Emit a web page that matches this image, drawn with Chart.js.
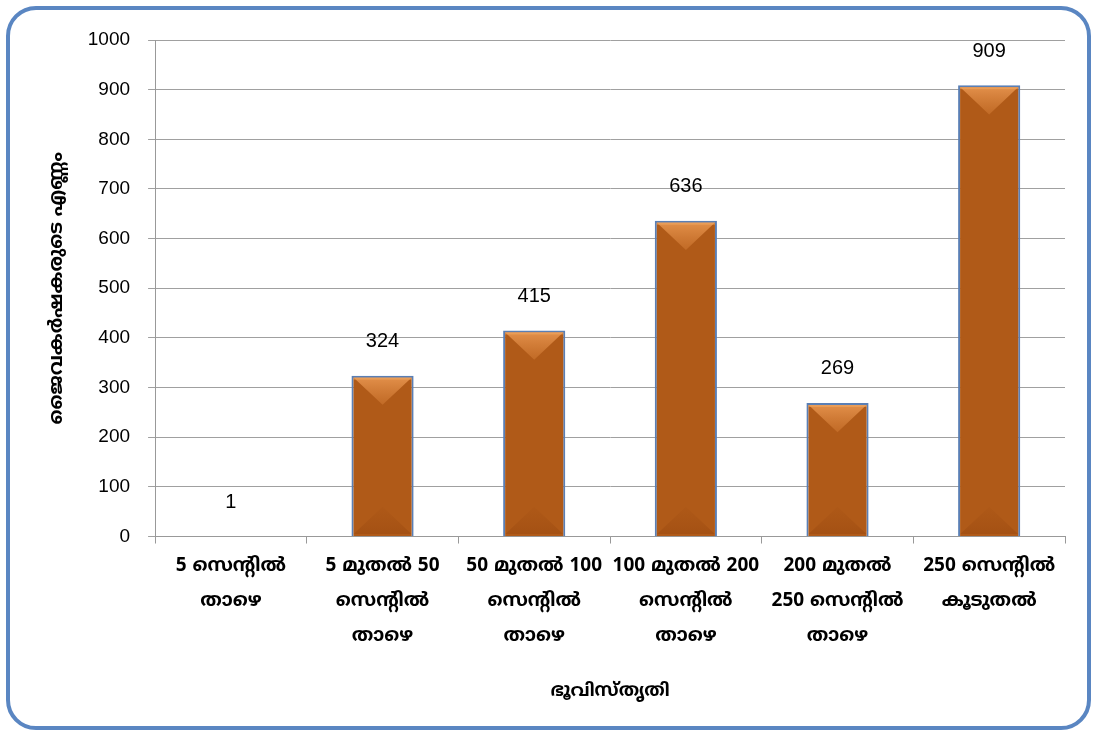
<!DOCTYPE html>
<html>
<head>
<meta charset="utf-8">
<script src="https://cdn.jsdelivr.net/npm/chart.js@4/dist/chart.umd.min.js"></script>
<style>
  html, body { margin: 0; padding: 0; background: #ffffff; }
  #wrap { width: 1093px; height: 731px; position: relative; }
</style>
</head>
<body>
<div id="wrap"><canvas id="c" width="1093" height="731"></canvas></div>
<script>
// Land-holding size classes (multi-line labels)
const categories = [
  ["5 സെന്റിൽ", "താഴെ"],
  ["5 മുതൽ 50", "സെന്റിൽ", "താഴെ"],
  ["50 മുതൽ 100", "സെന്റിൽ", "താഴെ"],
  ["100 മുതൽ 200", "സെന്റിൽ", "താഴെ"],
  ["200 മുതൽ", "250 സെന്റിൽ", "താഴെ"],
  ["250 സെന്റിൽ", "കൂടുതൽ"]
];
// Number of farmers in each class
const farmers = [1, 324, 415, 636, 269, 909];
// Value axis
const yMin = 0, yMax = 1000, yStep = 100;
const yTitle = "ജൈവകർഷകരുടെ എണ്ണം";
const xTitle = "ഭൂവിസ്തൃതി";

const mlFont = "'Noto Sans Malayalam', 'Noto Sans', 'DejaVu Sans', sans-serif";
const numFont = "'Liberation Sans', Arial, sans-serif";

// Rounded frame around the whole figure
const framePlugin = {
  id: 'frame',
  beforeDraw(chart) {
    const ctx = chart.ctx;
    ctx.save();
    ctx.fillStyle = '#ffffff';
    ctx.fillRect(0, 0, chart.width, chart.height);
    ctx.beginPath();
    ctx.roundRect(8, 8, chart.width - 12, chart.height - 11, 28);
    ctx.lineWidth = 4;
    ctx.strokeStyle = '#5a86c2';
    ctx.stroke();
    ctx.restore();
  }
};

// Bevelled shading on each bar plus the value label above it
const bevelPlugin = {
  id: 'bevel',
  afterDatasetsDraw(chart) {
    const ctx = chart.ctx;
    const meta = chart.getDatasetMeta(0);
    meta.data.forEach((bar, i) => {
      const w = bar.width;
      const left = bar.x - w / 2, right = bar.x + w / 2;
      const top = bar.y, bottom = bar.base;
      const h = bottom - top;
      if (![w, top, bottom].every(Number.isFinite)) return;
      if (h > 2) {
        ctx.save();
        ctx.beginPath();
        ctx.rect(left + 2, top + 2, w - 4, h - 4);
        ctx.clip();
        const d = Math.min(w * 0.47, h / 2);
        // top facet
        let g = ctx.createLinearGradient(0, top, 0, top + d);
        g.addColorStop(0, 'rgba(232,150,80,0.95)');
        g.addColorStop(1, 'rgba(205,118,48,0.6)');
        ctx.fillStyle = g;
        ctx.beginPath();
        ctx.moveTo(left, top);
        ctx.lineTo(right, top);
        ctx.lineTo(bar.x, top + d);
        ctx.closePath();
        ctx.fill();
        // bottom facet
        g = ctx.createLinearGradient(0, bottom, 0, bottom - d);
        g.addColorStop(0, 'rgba(140,62,10,0.35)');
        g.addColorStop(1, 'rgba(150,70,15,0.08)');
        ctx.fillStyle = g;
        ctx.beginPath();
        ctx.moveTo(left, bottom);
        ctx.lineTo(right, bottom);
        ctx.lineTo(bar.x, bottom - d);
        ctx.closePath();
        ctx.fill();
        // thin highlight along the top edge
        ctx.fillStyle = 'rgba(240,170,100,0.55)';
        ctx.fillRect(left, top, w, 4);
        ctx.restore();
      }
      // value label
      ctx.save();
      ctx.font = "20px " + numFont;
      ctx.fillStyle = '#000000';
      ctx.textAlign = 'center';
      ctx.textBaseline = 'middle';
      ctx.fillText(String(farmers[i]), bar.x, top - 34);
      ctx.restore();
    });
  }
};

function barFill(context) {
  const el = context.element;
  const chart = context.chart;
  if (!el || !chart.chartArea) return '#b05a18';
  const w = el.width;
  const x = el.x;
  if (!Number.isFinite(w) || !Number.isFinite(x) || w <= 0) return '#b05a18';
  const l = x - w / 2;
  const g = chart.ctx.createLinearGradient(l, 0, l + w, 0);
  g.addColorStop(0, '#a24e10');
  g.addColorStop(0.12, '#b6601b');
  g.addColorStop(0.45, '#b25c18');
  g.addColorStop(0.55, '#a85310');
  g.addColorStop(0.88, '#a04c0d');
  g.addColorStop(1, '#8e420a');
  return g;
}

new Chart(document.getElementById('c'), {
  type: 'bar',
  data: {
    labels: categories,
    datasets: [{
      data: farmers,
      backgroundColor: barFill,
      borderColor: '#5a7fb5',
      borderWidth: 2,
      categoryPercentage: 1,
      barPercentage: 0.41
    }]
  },
  options: {
    responsive: false,
    animation: false,
    layout: { padding: { left: 47, right: 28, top: 40, bottom: 28 } },
    plugins: {
      legend: { display: false },
      tooltip: { enabled: false }
    },
    scales: {
      x: {
        offset: true,
        grid: {
          display: true,
          offset: true,
          drawOnChartArea: false,
          drawTicks: true,
          tickLength: 7,
          color: '#999999',
          lineWidth: 1
        },
        border: { display: true, color: '#999999', width: 1 },
        ticks: {
          color: '#000000',
          font: { family: mlFont, size: 19, weight: 'bold', lineHeight: 1.84 },
          padding: 6,
          maxRotation: 0,
          autoSkip: false
        },
        title: {
          display: true,
          text: xTitle,
          color: '#000000',
          font: { family: mlFont, size: 18, weight: 'bold' },
          padding: { top: 21, bottom: 0 }
        }
      },
      y: {
        min: yMin,
        max: yMax,
        grid: {
          color: '#a0a0a0',
          lineWidth: 1,
          tickLength: 7
        },
        border: { display: true, color: '#999999', width: 1 },
        ticks: {
          stepSize: yStep,
          color: '#000000',
          font: { family: numFont, size: 19 },
          padding: 18,
          callback: (v) => String(v)
        },
        title: {
          display: true,
          text: yTitle,
          color: '#000000',
          font: { family: mlFont, size: 19, weight: 'bold' },
          padding: { top: 0, bottom: 0 }
        }
      }
    }
  },
  plugins: [framePlugin, bevelPlugin]
});
</script>
</body>
</html>
